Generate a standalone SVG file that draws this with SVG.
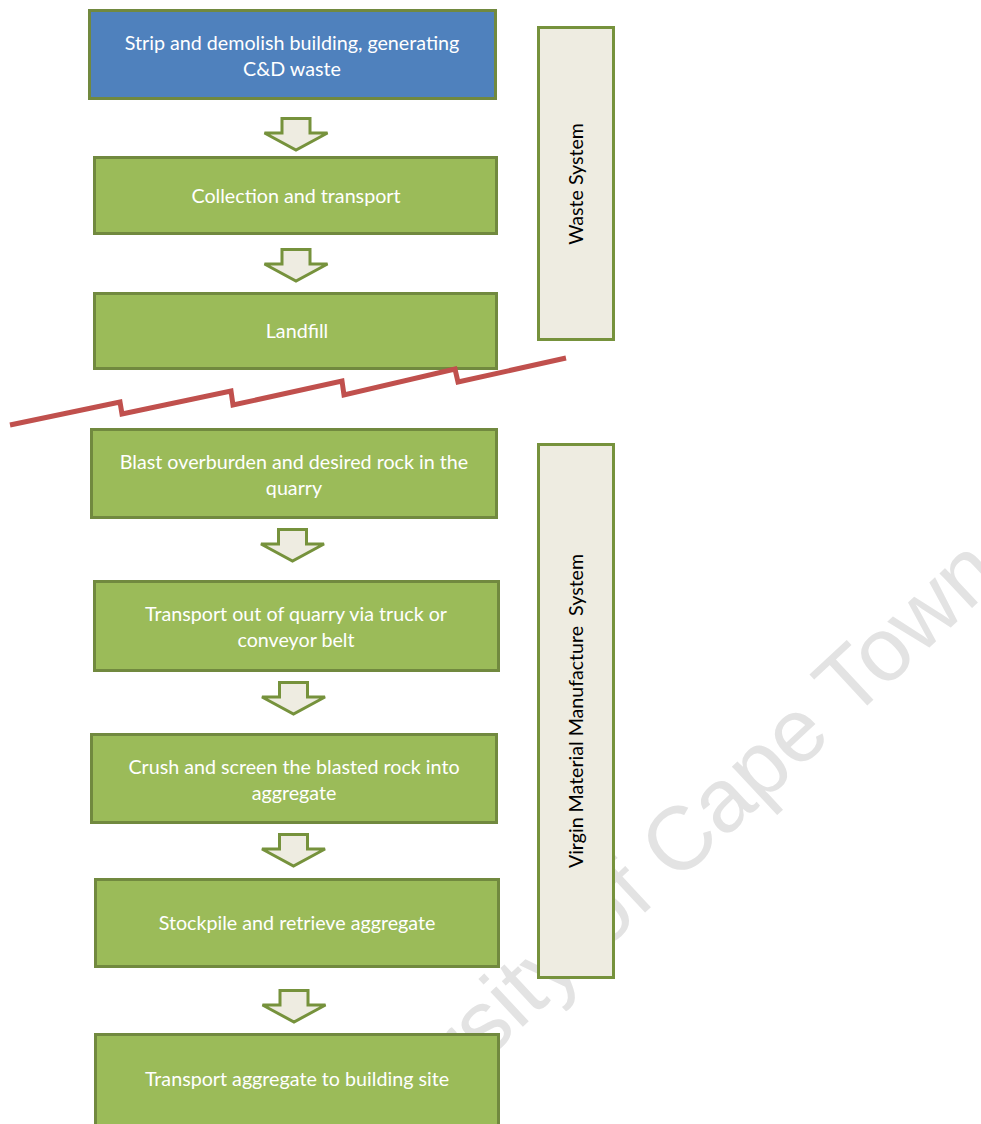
<svg xmlns="http://www.w3.org/2000/svg" xmlns:xlink="http://www.w3.org/1999/xlink" width="981" height="1124" viewBox="0 0 981 1124">
<style>
.box{fill:#9bbb59;stroke:#71893f;stroke-width:3}
.blue{fill:#4f81bd;stroke:#71893f;stroke-width:3}
.side{fill:#eeece1;stroke:#76923c;stroke-width:3}
.lbl{font-family:Lato,"Open Sans","Liberation Sans",sans-serif;font-size:19.7px;fill:#ffffff;text-anchor:middle}
.slbl{font-family:Lato,"Open Sans","Liberation Sans",sans-serif;font-size:19.6px;fill:#000000;text-anchor:middle}
.arr{fill:#eeece1;stroke:#76923c;stroke-width:3;stroke-linejoin:miter}
.wm{font-family:"Liberation Sans",Arial,sans-serif;font-size:90px;fill:#e3e3e3}
</style>
<defs>
<path id="arrow" class="arr" d="M-14,1.5 H14 V16 H31.5 L0,33 L-31.5,16 H-14 Z"/>
</defs>
<rect width="981" height="1124" fill="#ffffff"/>
<text class="wm" x="1004" y="578" text-anchor="end" transform="rotate(-43 1004 578)">University of Cape Town</text>
<g id="connectors">
<use xlink:href="#arrow" href="#arrow" transform="translate(296,117)"/>
<use xlink:href="#arrow" href="#arrow" transform="translate(296,248)"/>
<use xlink:href="#arrow" href="#arrow" transform="translate(292.5,528)"/>
<use xlink:href="#arrow" href="#arrow" transform="translate(293.5,681)"/>
<use xlink:href="#arrow" href="#arrow" transform="translate(293.5,833)"/>
<use xlink:href="#arrow" href="#arrow" transform="translate(294,989)"/>
</g>
<g id="n1"><rect class="blue" x="89.5" y="10.5" width="406" height="88"/>
<text class="lbl" x="292" y="49.5">Strip and demolish building, generating</text>
<text class="lbl" x="292" y="75.5">C&amp;D waste</text></g>
<g id="n2"><rect class="box" x="94.5" y="157.5" width="402" height="76"/>
<text class="lbl" x="296" y="202.5">Collection and transport</text></g>
<g id="n3"><rect class="box" x="94.5" y="293.5" width="402" height="75"/>
<text class="lbl" x="297" y="337.5">Landfill</text></g>
<g id="n4"><rect class="box" x="91.5" y="429.5" width="405" height="88"/>
<text class="lbl" x="294" y="468.5">Blast overburden and desired rock in the</text>
<text class="lbl" x="294" y="494.5">quarry</text></g>
<g id="n5"><rect class="box" x="94.5" y="581.5" width="404" height="89"/>
<text class="lbl" x="296" y="620.5">Transport out of quarry via truck or</text>
<text class="lbl" x="296" y="646.5">conveyor belt</text></g>
<g id="n6"><rect class="box" x="91.5" y="734.5" width="405" height="88"/>
<text class="lbl" x="294" y="773.5">Crush and screen the blasted rock into</text>
<text class="lbl" x="294" y="799.5">aggregate</text></g>
<g id="n7"><rect class="box" x="95.5" y="879.5" width="403" height="87"/>
<text class="lbl" x="297" y="929.5">Stockpile and retrieve aggregate</text></g>
<g id="n8"><rect class="box" x="95.5" y="1034.5" width="403" height="95"/>
<text class="lbl" x="297" y="1085.5">Transport aggregate to building site</text></g>
<g id="waste-system"><rect class="side" x="538.5" y="27.5" width="75" height="312"/>
<text class="slbl" transform="translate(583,184) rotate(-90)">Waste System</text></g>
<g id="virgin-system"><rect class="side" x="538.5" y="444.5" width="75" height="533"/>
<text class="slbl" transform="translate(583,711) rotate(-90)" xml:space="preserve">Virgin Material Manufacture  System</text></g>
<g id="break-line">
<path d="M10,425 L120,402 L122,414 L231,391 L233,405 L342,381 L344,395 L455,369 L458,382 L566,358" fill="none" stroke="#c0504d" stroke-width="5" stroke-linejoin="miter"/>
</g>
</svg>
